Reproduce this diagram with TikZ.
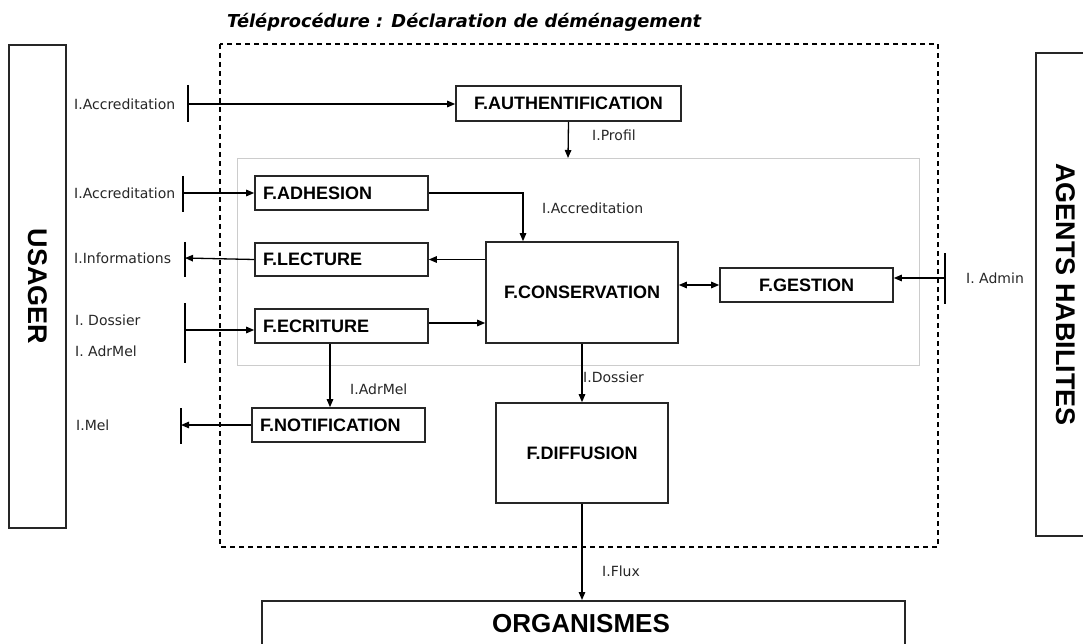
\documentclass[tikz,border=0pt]{standalone}
\usepackage{fontspec}
\usetikzlibrary{arrows.meta,calc}
\newfontfamily\lblfont{DejaVu Sans}
\newfontfamily\boxfont{Liberation Sans}
\newfontfamily\titlef{DejaVu Sans Bold Oblique}
\begin{document}
\begin{tikzpicture}[x=1pt,y=-1pt,
  fbox/.style={draw=black!85, line width=1.6pt, inner sep=0pt, font=\boxfont\bfseries\fontsize{18}{20}\selectfont},
  lbox/.style={fbox, inner xsep=8pt, align=left},
  big/.style={draw=black!85, line width=1.6pt, inner sep=0pt, font=\boxfont\bfseries\fontsize{27}{30}\selectfont},
  lbl/.style={anchor=west, inner sep=0pt, text=black!85, font=\lblfont\fontsize{14}{16}\selectfont},
  conn/.style={line width=1.3pt, -{Triangle[length=8pt,width=6.5pt]}},
  bar/.style={line width=1.5pt}
]
\useasboundingbox (0,0) rectangle (1083,644);

% title
\node[anchor=base west, inner sep=0pt, font=\titlef\fontsize{17.8}{20}\selectfont] (title) at (227,28) {Téléprocédure : Déclaration de déménagement};

% outer dashed and inner grey frames
\draw[line width=1.3pt, dash pattern=on 5pt off 4pt] (220,44) rectangle (938,547);
\draw[gray!40, line width=1pt] (237,159) rectangle (919,365);

% side boxes
\node[big, rotate=-90, minimum width=483pt, minimum height=57pt] (usager) at (37.5,286.5) {USAGER};
\node[big, rotate=-90, minimum width=483pt, minimum height=60pt] (agents) at (1066,294.5) {AGENTS HABILITES};
\node[draw=black!85, line width=1.6pt, minimum width=643pt, minimum height=80pt, anchor=north] (org) at (583.5,600) {};
\node[inner sep=0pt, font=\boxfont\bfseries\fontsize{26}{28}\selectfont] (orgtxt) at (581,624) {ORGANISMES};

% function boxes
\node[fbox, minimum width=225pt, minimum height=35pt] (auth) at (568.5,103.5) {F.AUTHENTIFICATION};
\node[lbox, text width=157pt, minimum height=34pt] (adh) at (341.5,193) {F.ADHESION};
\node[lbox, text width=157pt, minimum height=33pt] (lect) at (341.5,259.5) {F.LECTURE};
\node[lbox, text width=157pt, minimum height=34pt] (ecr) at (341.5,326) {F.ECRITURE};
\node[lbox, text width=157pt, minimum height=34pt] (notif) at (338.5,425) {F.NOTIFICATION};
\node[fbox, minimum width=192pt, minimum height=101pt] (cons) at (582,292.5) {F.CONSERVATION};
\node[fbox, minimum width=172pt, minimum height=100pt] (diff) at (582,453) {F.DIFFUSION};
\node[fbox, minimum width=173pt, minimum height=34pt] (gest) at (806.5,285) {F.GESTION};

% bars (interface ends)
\coordinate (pA) at (188,104); \coordinate (pAt) at (188,85); \coordinate (pAb) at (188,122);
\coordinate (pB) at (183,193); \coordinate (pBt) at (183,176); \coordinate (pBb) at (183,212);
\coordinate (pC) at (185,258); \coordinate (pCt) at (185,242); \coordinate (pCb) at (185,277);
\coordinate (pD) at (185,330); \coordinate (pDt) at (185,303); \coordinate (pDb) at (185,363);
\coordinate (pE) at (181,425); \coordinate (pEt) at (181,408); \coordinate (pEb) at (181,444);
\coordinate (pF) at (945,278); \coordinate (pFt) at (945,253); \coordinate (pFb) at (945,304);
\coordinate (profilEnd) at (568,158);
\foreach \b in {A,B,C,D,E,F} \draw[bar] (p\b t) -- (p\b b);

% connectors
\draw[conn] (pA) -- (pA -| auth.west);
\draw[conn] (auth.south) -- (profilEnd);
\draw[conn] (pB) -- (pB -| adh.west);
\draw[conn] (adh.east) -| ([xshift=-59pt]cons.north);
\draw[conn] (lect.east -| cons.west) -- (lect.east);
\draw[conn] (lect.west) -- (pC);
\draw[conn] (pD) -- (pD -| ecr.west);
\draw[conn] ([yshift=3pt]ecr.east) -- ([yshift=3pt]ecr.east -| cons.west);
\draw[conn] ([xshift=-11.5pt]ecr.south) -- ([xshift=-11.5pt]ecr.south |- notif.north);
\draw[conn] (notif.west) -- (pE);
\draw[conn] (cons.south) -- (diff.north);
\draw[conn] (diff.south) -- (diff.south |- org.north);
\draw[conn, {Triangle[length=8pt,width=6.5pt]}-{Triangle[length=8pt,width=6.5pt]}] (gest.west -| cons.east) -- (gest.west);
\draw[conn] (pF) -- (pF -| gest.east);

% labels
\node[lbl] (l1) at (74,104) {I.Accreditation};
\node[lbl] (l2) at (74,193) {I.Accreditation};
\node[lbl] (l3) at (74,258) {I.Informations};
\node[lbl] (l4) at (75,320) {I. Dossier};
\node[lbl] (l5) at (75,351) {I. AdrMel};
\node[lbl] (l6) at (76,425) {I.Mel};
\node[lbl] (l7) at (592,135) {I.Profil};
\node[lbl] (l8) at (542,208) {I.Accreditation};
\node[lbl] (l9) at (350,389) {I.AdrMel};
\node[lbl] (l10) at (583,377) {I.Dossier};
\node[lbl] (l11) at (602,571) {I.Flux};
\node[lbl] (l12) at (966,278) {I. Admin};
\end{tikzpicture}
\end{document}
